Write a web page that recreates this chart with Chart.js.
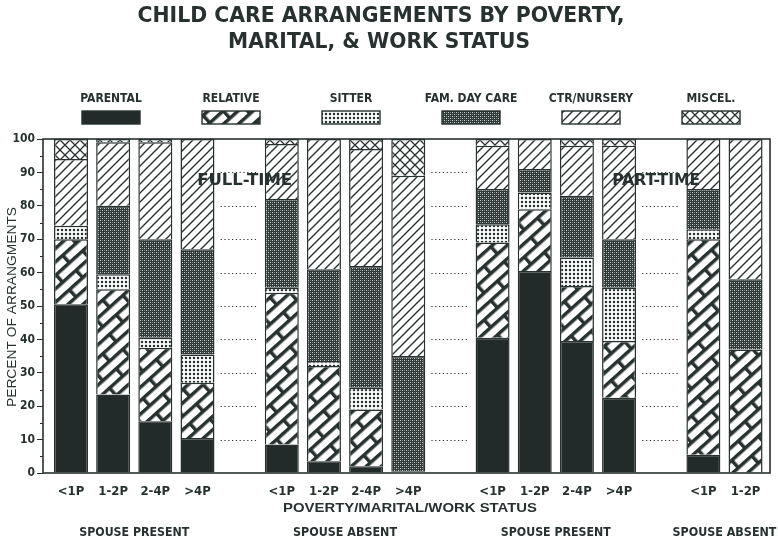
<!DOCTYPE html>
<html><head><meta charset="utf-8">
<script src="https://cdn.jsdelivr.net/npm/chart.js@4/dist/chart.umd.min.js"></script>
<style>html,body{margin:0;padding:0;background:#fff;overflow:hidden}</style>
</head><body>
<canvas id="c" width="778" height="552"></canvas>
<script>
// ---------- DATA ----------
const categories = ['<1P','1-2P','2-4P','>4P','', '<1P','1-2P','2-4P','>4P','', '<1P','1-2P','2-4P','>4P','', '<1P','1-2P'];
const parental = [50.5,23.5,15.5,10.5,null, 8.5,3.5,2,0,null, 40.5,60.5,39.5,22.5,null, 5.5,0];
const relative = [19.5,31.5,22,16.5,null, 45.5,28.5,17,0,null, 28.5,18.5,16.5,17,null, 64.5,37];
const sitter   = [4,4.5,3,8.5,null, 1.5,1.5,6.5,0.5,null, 5.5,5,8.5,16,null, 3,0];
const famDay   = [0,20.5,29.5,31.5,null, 26.5,27.5,36.5,34.5,null, 10.5,7,18.5,14.5,null, 12,21];
const ctrNurs  = [20,19,29,33,null, 16.5,39,35,54,null, 13,9,15,28,null, 15,42];
const miscel   = [6,1,1,0,null, 1.5,0,3,11,null, 2,0,2,2,null, 0,0];
const seriesNames = ['PARENTAL','RELATIVE','SITTER','FAM. DAY CARE','CTR/NURSERY','MISCEL.'];
const groupLabels = ['SPOUSE PRESENT','SPOUSE ABSENT','SPOUSE PRESENT','SPOUSE ABSENT'];
const workLabels = [{text:'FULL-TIME', gap:4}, {text:'PART-TIME', gap:14}];
const yTicks = [0,10,20,30,40,50,60,70,80,90,100];
const titleLines = ['CHILD CARE ARRANGEMENTS BY POVERTY,','MARITAL, & WORK STATUS'];

// ---------- STYLE ----------
const INK = '#263130';
const NARROW = "'Liberation Sans Narrow','DejaVu Sans Condensed','Liberation Sans',sans-serif";
const SANS = "'Liberation Sans','Arial',sans-serif";

function tile(w,h,draw){const c=document.createElement('canvas');c.width=w;c.height=h;const g=c.getContext('2d');draw(g,w,h);return c;}
const pctx = document.createElement('canvas').getContext('2d');

const solidP = '#222b2a';
const brickTile = tile(36,20,(g,w,h)=>{
  g.fillStyle='#fff';g.fillRect(0,0,w,h);
  g.fillStyle=INK;
  g.fillRect(0,0,w,3.5);g.fillRect(0,10,w,3.5);
  g.fillRect(0,0,3.5,10);g.fillRect(18,10,3.5,10);
});
const relP = pctx.createPattern(brickTile,'repeat');
relP.setTransform(new DOMMatrix().rotate(-42));
const sitP = pctx.createPattern(tile(4,4,(g)=>{
  g.fillStyle='#fff';g.fillRect(0,0,4,4);
  g.fillStyle=INK;g.beginPath();g.arc(2,2,1.25,0,Math.PI*2);g.fill();
}),'repeat');
const famP = pctx.createPattern(tile(4,4,(g)=>{
  g.fillStyle='#2f3938';g.fillRect(0,0,4,4);
  g.fillStyle='#cfd4d2';g.fillRect(0,0,1,1);g.fillRect(2,2,1,1);
  g.fillStyle='#7d8685';g.fillRect(2,0,1,1);g.fillRect(0,2,1,1);
}),'repeat');
const ctrP = pctx.createPattern(tile(9,9,(g)=>{
  g.fillStyle='#fff';g.fillRect(0,0,9,9);
  g.strokeStyle=INK;g.lineWidth=1.4;
  g.beginPath();g.moveTo(-1,10);g.lineTo(10,-1);g.moveTo(-2,2);g.lineTo(2,-2);g.moveTo(7,11);g.lineTo(11,7);g.stroke();
}),'repeat');
const misP = pctx.createPattern(tile(10,10,(g)=>{
  g.fillStyle='#fff';g.fillRect(0,0,10,10);
  g.strokeStyle=INK;g.lineWidth=1.3;
  g.beginPath();g.moveTo(0,10);g.lineTo(10,0);g.moveTo(0,0);g.lineTo(10,10);g.stroke();
}),'repeat');
const fills = [solidP, relP, sitP, famP, ctrP, misP];
const seriesData = [parental, relative, sitter, famDay, ctrNurs, miscel];

function txt(ctx,s,x,y,font,w,rot){
  ctx.save();ctx.font=font;ctx.fillStyle=INK;ctx.textAlign='center';ctx.textBaseline='middle';
  ctx.translate(x,y); if(rot) ctx.rotate(rot);
  if(w){const m=ctx.measureText(s).width;ctx.scale(w/m,1);}
  ctx.fillText(s,0,0);ctx.restore();
}

const decor = {
  id:'decor',
  beforeDatasetsDraw(chart){
    const {ctx,scales:{x,y}} = chart;
    ctx.save();ctx.strokeStyle=INK;ctx.lineWidth=1.2;ctx.setLineDash([1.2,2.6]);
    categories.forEach((c,i)=>{
      if(c!=='') return;
      const cx=x.getPixelForValue(i);
      yTicks.forEach(v=>{ if(v===0||v===100) return;
        const py=Math.round(y.getPixelForValue(v))+0.5;
        ctx.beginPath();ctx.moveTo(cx-19,py);ctx.lineTo(cx+19,py);ctx.stroke();});
    });
    ctx.restore();
  },
  afterDatasetsDraw(chart){
    const {ctx,chartArea:a,scales:{x,y}} = chart;
    ctx.save();ctx.strokeStyle=INK;ctx.lineWidth=1.6;
    ctx.strokeRect(a.left,a.top,a.right-a.left,a.bottom-a.top);
    ctx.lineWidth=1;
    for(let v=5;v<100;v+=10){const py=Math.round(y.getPixelForValue(v))+0.5;ctx.beginPath();ctx.moveTo(a.left-3,py);ctx.lineTo(a.left,py);ctx.stroke();}
    ctx.restore();
    workLabels.forEach(w=>{
      txt(ctx,w.text,x.getPixelForValue(w.gap)+(w.gap===4?5:-5),y.getPixelForValue(87.5),"bold 16px "+NARROW,w.gap===4?95:88);
    });
  },
  afterDraw(chart){
    const {ctx,scales:{x,y}} = chart;
    txt(ctx,titleLines[0],381,16,"bold 22px "+NARROW,487);
    txt(ctx,titleLines[1],379,42,"bold 22px "+NARROW,302);
    chart.data.datasets.forEach((ds,i)=>{
      const cx=111+i*120;
      txt(ctx,ds.label,cx,99,"bold 12px "+NARROW);
      ctx.save();ctx.fillStyle=ds.backgroundColor;ctx.fillRect(cx-29,111,58,13);
      ctx.strokeStyle=INK;ctx.lineWidth=1.4;ctx.strokeRect(cx-29,111,58,13);ctx.restore();
    });
    txt(ctx,'PERCENT OF ARRANGMENTS',12,307,"13px "+SANS,200,-Math.PI/2);
    txt(ctx,'POVERTY/MARITAL/WORK STATUS',410,508,"bold 13px "+SANS,254);
    let start=0,g=0;
    for(let i=0;i<=categories.length;i++){
      if(i===categories.length||categories[i]===''){
        const mid=(start+i-1)/2;
        const s=groupLabels[g++];
        txt(ctx,s,x.getPixelForValue(mid),533,"bold 12px "+NARROW,s==='SPOUSE PRESENT'?110:104);
        start=i+1;
      }
    }
  }
};

new Chart(document.getElementById('c'),{
  type:'bar',
  data:{labels:categories,datasets:seriesNames.map((n,i)=>({
    label:n,data:seriesData[i],backgroundColor:fills[i],borderColor:INK,borderWidth:1.5,
    barThickness:34,inflateAmount:0
  }))},
  options:{
    responsive:false,animation:false,devicePixelRatio:1,
    layout:{padding:{top:139,right:8,left:0,bottom:0}},
    plugins:{legend:{display:false},tooltip:{enabled:false},title:{display:false}},
    scales:{
      x:{stacked:true,offset:true,
        afterBuildTicks:(s)=>{s._startValue=-0.664;s._valueRange=17.244;},
        afterFit:(s)=>{s.height=79;},
        grid:{display:false},border:{display:false},
        ticks:{autoSkip:false,maxRotation:0,padding:3,color:INK,font:{family:NARROW,size:13,weight:'bold'}}},
      y:{stacked:true,min:0,max:100,
        afterBuildTicks:(s)=>{s.ticks=yTicks.map(v=>({value:v}));},
        afterFit:(s)=>{s.width=43;},
        grid:{drawOnChartArea:false,tickLength:6,color:INK,lineWidth:1},
        border:{display:false},
        ticks:{padding:2,color:INK,font:{family:NARROW,size:12,weight:'bold'}}}
    }
  },
  plugins:[decor]
});
</script></body></html>
